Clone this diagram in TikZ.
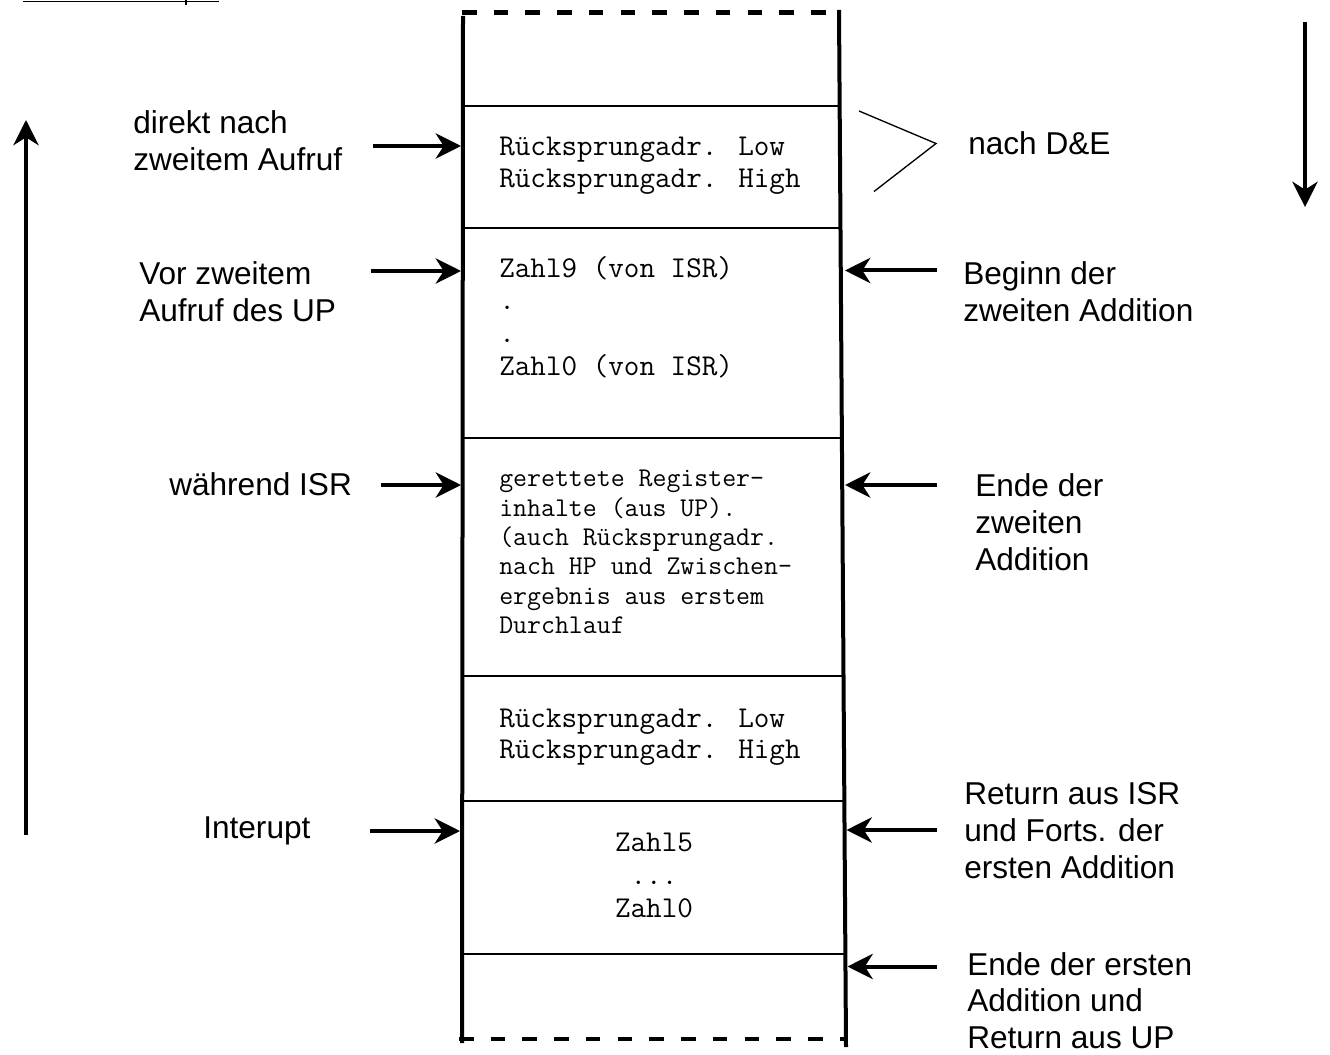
\documentclass[tikz,border=0pt]{standalone}
\usepackage{fontspec}
\setmainfont{Liberation Sans}
\usetikzlibrary{arrows.meta}
\begin{document}
\begin{tikzpicture}[x=0.75pt,y=-0.75pt,
  wall/.style={line width=3pt},
  sepline/.style={line width=1.9pt},
  dashwall/.style={line width=3.4pt, dash pattern=on 10.9pt off 12.9pt},
  ptr/.style={line width=3pt, -{Stealth[length=19pt,width=19pt,inset=6pt]}},
  bigptr/.style={line width=2.3pt, -{Stealth[length=19pt,width=19pt,inset=6pt]}},
  lab/.style={anchor=base west, align=left, inner sep=0pt, font=\fontsize{23.7}{27.75}\selectfont},
  mono/.style={anchor=base west, align=left, inner sep=0pt, font=\ttfamily\fontsize{22.7}{24}\selectfont},
  monosmall/.style={anchor=base west, align=left, inner sep=0pt, font=\ttfamily\fontsize{20.3}{22}\selectfont},
  thinline/.style={line width=1pt}]
\useasboundingbox (0,0) rectangle (1330,1055);

% top-left cut-off underline
\draw[line width=0.9pt] (23,1.5) -- (219,1.5);
\draw[line width=2pt] (186,0) -- (186,5);

% stack walls
\draw[wall] (463,16) -- (462,1043);
\draw[wall] (839,10) -- (846,1047);
\draw[dashwall] (462,12.5) -- (830,12.5);
\draw[dashwall] (459,1039) -- (846,1039);

% separators
\draw[sepline] (463,106) -- (839.6,106);
\draw[sepline] (463,228) -- (840.5,228);
\draw[sepline] (463,438) -- (841.9,438);
\draw[sepline] (463,676) -- (843.5,676);
\draw[sepline] (463,801) -- (844.3,801);
\draw[sepline] (463,954) -- (845.4,954);

% cell contents (base anchor = baseline of last line)
\node[mono] (c1) at (499,188) {Rücksprungadr. Low\\Rücksprungadr. High};
\node[mono, font=\ttfamily\fontsize{22.7}{24.4}\selectfont] (c2) at (499,375) {Zahl9 (von ISR)\\.\\.\\Zahl0 (von ISR)};
\node[monosmall] (c3) at (499,633.5) {gerettete Register-\\inhalte (aus UP).\\(auch Rücksprungadr.\\nach HP und Zwischen-\\ergebnis aus erstem\\Durchlauf};
\node[mono, font=\ttfamily\fontsize{22.7}{23.6}\selectfont] (c4) at (499,758.5) {Rücksprungadr. Low\\Rücksprungadr. High};
\node[mono, anchor=base, align=center, font=\ttfamily\fontsize{22.7}{24.4}\selectfont] (c5) at (654,917) {Zahl5\\...\\Zahl0};

% left labels
\node[lab] (l1) at (133,171) {direkt nach\\zweitem Aufruf};
\node[lab] (l2) at (139,321.5) {Vor zweitem\\Aufruf des UP};
\node[lab] (l3) at (169,495) {während ISR};
\node[lab] (l4) at (203,838) {Interupt};

% right labels
\node[lab] (r0) at (968,155) {nach D\&E};
\node[lab] (r1) at (963,321) {Beginn der\\zweiten Addition};
\node[lab] (r2) at (975,570) {Ende der\\zweiten\\Addition};
\node[lab] (r3) at (964,878) {Return aus ISR\\und Forts. der\\ersten Addition};
\node[lab, font=\fontsize{23.7}{27.3}\selectfont] (r4) at (967,1048) {Ende der ersten\\Addition und\\Return aus UP};

% arrow coordinates
\coordinate (la1s) at (373,146);  \coordinate (la1e) at (461,146);
\coordinate (la2s) at (371,271);  \coordinate (la2e) at (461,271);
\coordinate (la3s) at (381,485);  \coordinate (la3e) at (461,485);
\coordinate (la4s) at (370,831);  \coordinate (la4e) at (460,831);
\coordinate (ra1s) at (937,270.5); \coordinate (ra1e) at (845,270.5);
\coordinate (ra2s) at (937,485);  \coordinate (ra2e) at (845,485);
\coordinate (ra3s) at (937,830);  \coordinate (ra3e) at (846.5,830);
\coordinate (ra4s) at (937,966.5); \coordinate (ra4e) at (847.5,966.5);

\draw[ptr] (la1s) -- (la1e);
\draw[ptr] (la2s) -- (la2e);
\draw[ptr] (la3s) -- (la3e);
\draw[ptr] (la4s) -- (la4e);
\draw[ptr] (ra1s) -- (ra1e);
\draw[ptr] (ra2s) -- (ra2e);
\draw[ptr] (ra3s) -- (ra3e);
\draw[ptr] (ra4s) -- (ra4e);

% chevron
\coordinate (ch1) at (859,111);
\coordinate (ch2) at (936,143.5);
\coordinate (ch3) at (874,191.5);
\draw[thinline] (ch1) -- (ch2) -- (ch3);

% big direction arrows
\coordinate (bl1) at (26,835); \coordinate (bl2) at (26,120);
\coordinate (br1) at (1305,22); \coordinate (br2) at (1305,207);
\draw[bigptr] (bl1) -- (bl2);
\draw[bigptr] (br1) -- (br2);
\end{tikzpicture}
\end{document}
